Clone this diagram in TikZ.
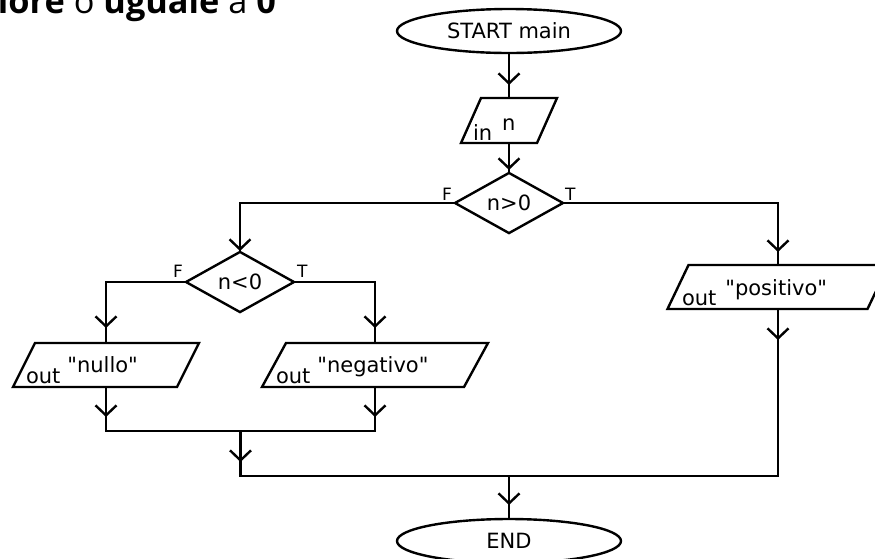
\documentclass[tikz,border=0pt]{standalone}
\usepackage{fontspec}
\setmainfont{DejaVu Sans}[Ligatures=TeXOff]
\newfontfamily\titlefont{Open Sans}
\usetikzlibrary{shapes.geometric, arrows.meta, decorations.markings}

% outline of an input/output block drawn around a rectangular node
\newcommand\ioshape[2]{%
  \draw[outline] ([xshift=#2]#1.north west) -- ([xshift=#2]#1.north east)
    -- ([xshift=-#2]#1.south east) -- ([xshift=-#2]#1.south west) -- cycle;}

\begin{document}
\begin{tikzpicture}[x=1pt, y=-1pt,
  every node/.style={inner sep=0pt, outer sep=0pt},
  lbl/.style={font=\fontsize{21}{25}\selectfont},
  tf/.style={font=\fontsize{17}{20}\selectfont},
  outline/.style={line width=2.4pt, line join=miter},
  term/.style={ellipse, draw, outline, minimum width=224pt, minimum height=44pt, lbl},
  test/.style={diamond, draw, outline, minimum width=108pt, minimum height=54pt, lbl},
  iobox/.style={rectangle, minimum height=44pt},
  flow/.style={line width=2.4pt, line cap=rect},
  vmark/.style={postaction={decorate}, decoration={markings,
      mark=at position #1 with {\arrow{Straight Barb[length=10pt,width=21pt]}}}},
]
\useasboundingbox (0,0) rectangle (875,558);
\clip (0,0) rectangle (875,558);

% heading (partly outside the frame)
\node[anchor=base west] (title) at (-2,13.5)
  {\resizebox{278pt}{!}{\titlefont\fontsize{36}{42}\selectfont
   {\bfseries iore} o {\bfseries uguale} a {\bfseries 0}}};

% terminals
\node[term] (start) at (509,31) {START main};
\node[term] (end) at (509,541) {END};

% input n
\node[iobox, minimum width=76pt, minimum height=45pt] (in) at (509,120.5) {};
\ioshape{in}{10pt}
\node[lbl, anchor=base west] (in-k) at ([xshift=2pt, yshift=3pt]in.south west) {in};
\node[lbl, anchor=base west] (in-v) at ([xshift=10pt, yshift=10pt]in-k.base east) {n};

% decisions
\node[test] (d1) at (509,203) {n>0};
\node[test] (d2) at (240,282) {n<0};
\node[tf, anchor=base east] (d1-f) at ([xshift=-3pt, yshift=3pt]d1.west) {F};
\node[tf, anchor=base west] (d1-t) at ([xshift=2pt, yshift=3pt]d1.east) {T};
\node[tf, anchor=base east] (d2-f) at ([xshift=-3pt, yshift=5pt]d2.west) {F};
\node[tf, anchor=base west] (d2-t) at ([xshift=3pt, yshift=5pt]d2.east) {T};

% outputs
\node[iobox, minimum width=164pt] (nul) at (106,365) {};
\ioshape{nul}{11pt}
\node[lbl, anchor=base west] (nul-k) at ([xshift=2pt, yshift=4pt]nul.south west) {out};
\node[lbl, anchor=base west] (nul-v) at ([xshift=7pt, yshift=11pt]nul-k.base east) {"nullo"};

\node[iobox, minimum width=202pt] (neg) at (375,365) {};
\ioshape{neg}{12pt}
\node[lbl, anchor=base west] (neg-k) at ([xshift=2pt, yshift=4pt]neg.south west) {out};
\node[lbl, anchor=base west] (neg-v) at ([xshift=7pt, yshift=11pt]neg-k.base east) {"negativo"};

\node[iobox, minimum width=200pt] (pos) at (778,287) {};
\ioshape{pos}{10.5pt}
\node[lbl, anchor=base west] (pos-k) at ([xshift=4pt, yshift=4pt]pos.south west) {out};
\node[lbl, anchor=base west] (pos-v) at ([xshift=9pt, yshift=10pt]pos-k.base east) {"positivo"};

% junctions
\coordinate (j1) at (240.5,431);
\coordinate (j2) at (509,476);

% connectors
\draw[flow, vmark=-13pt] (start) -- (in);
\draw[flow, vmark=-3pt] (in) -- (d1);
\draw[flow, vmark=-1pt] (d1.west) -| (d2.north);
\draw[flow, vmark=-13pt] (d1.east) -| (pos.north);
\draw[flow, vmark=-15pt] (d2.west) -| (nul.north);
\draw[flow, vmark=-15pt] (d2.east) -| (neg.north);
\draw[flow, vmark=-14pt] (nul.south) -- (nul.south |- j1);
\draw[flow, vmark=-14pt] (neg.south) -- (neg.south |- j1);
\draw[flow] (nul.south |- j1) -- (neg.south |- j1);
\draw[flow, vmark=-14pt] (j1) -- (j1 |- j2);
\draw[flow] (j1 |- j2) -- (pos.south |- j2);
\draw[flow, vmark=31pt] (pos.south) -- (pos.south |- j2);
\draw[flow, vmark=-14pt] (j2) -- (end);
\end{tikzpicture}
\end{document}
